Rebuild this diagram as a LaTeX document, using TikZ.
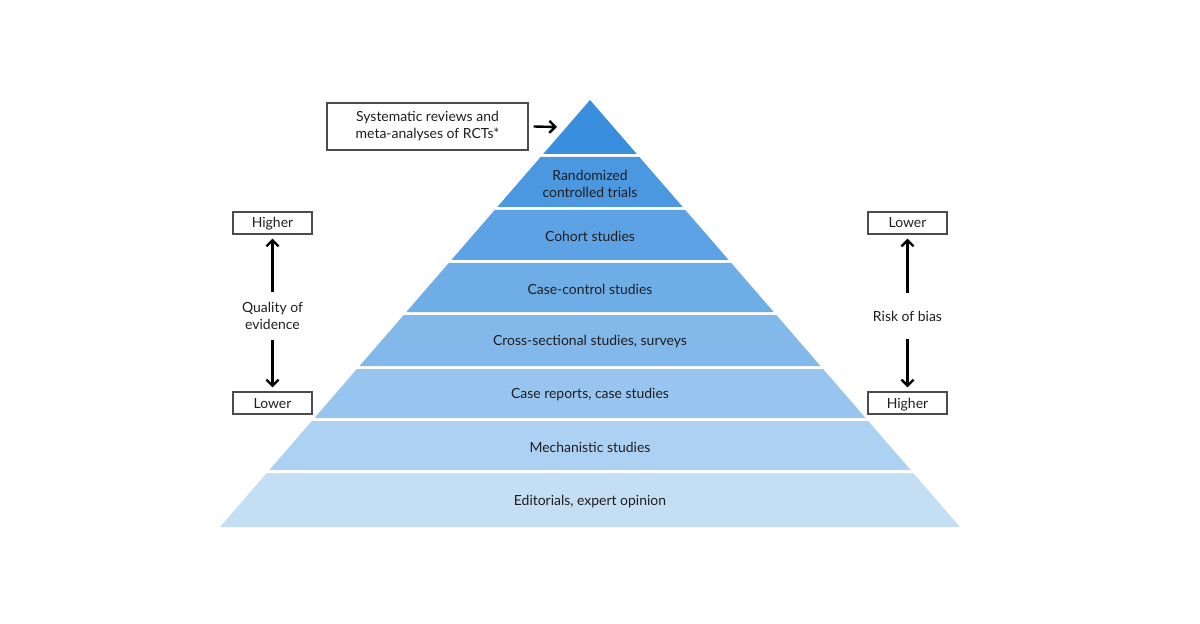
\documentclass[tikz,border=0pt]{standalone}
\usepackage{fontspec}
\setmainfont{Lato}
\usetikzlibrary{positioning,arrows.meta}
\definecolor{lay1}{HTML}{3A8EDE}
\definecolor{lay2}{HTML}{4B98E1}
\definecolor{lay3}{HTML}{5DA2E4}
\definecolor{lay4}{HTML}{6FADE7}
\definecolor{lay5}{HTML}{83B8EB}
\definecolor{lay6}{HTML}{98C5EF}
\definecolor{lay7}{HTML}{ADD1F2}
\definecolor{lay8}{HTML}{C4DEF4}
\definecolor{ink}{HTML}{1E1E1E}

\begin{document}
\begin{tikzpicture}[
    x=1bp, y=-1bp,
    >={Straight Barb[length=6bp,width=12bp]},
    every node/.style={font=\fontsize{14}{17}\selectfont, align=center, text=ink},
    tag/.style={draw=black!70, line width=1.2bp, minimum width=79bp, minimum height=22bp, inner sep=0pt,
      text height=11bp, text depth=1bp},
    bigarrow/.style={->, line width=2.4bp, black}
]
\useasboundingbox (0,0) rectangle (1200,624);
% pyramid layers: top/bottom/label
\foreach \i/\yt/\yb/\txt in {1/100/154/{},
    2/157/207/{Randomized\\controlled trials},
    3/210/260/{Cohort studies},
    4/263/312/{Case-control studies},
    5/315/366/{Cross-sectional studies, surveys},
    6/369/418/{Case reports, case studies},
    7/421/470/{Mechanistic studies},
    8/473/527/{Editorials, expert opinion}}{
  \pgfmathsetmacro{\wt}{(\yt-100)*0.8665}
  \pgfmathsetmacro{\wb}{(\yb-100)*0.8665}
  \fill[lay\i] (590-\wt,\yt) -- (590+\wt,\yt) -- (590+\wb,\yb) -- (590-\wb,\yb) -- cycle;
  \node (lay\i) at (590,{(\yt+\yb)/2+1.5}) {\txt};
}
\node[draw=black!70, line width=1.2bp, minimum width=201bp, minimum height=47bp, inner sep=0pt]
  (sys) at (427.5,126.5) {Systematic reviews and\\meta-analyses of RCTs*};
\coordinate (apex) at (557,127);
\draw[bigarrow] ([xshift=5bp]sys.east) -- (apex);
% left scale
\node[tag] (hiL) at (272.5,223) {Higher};
\node[tag] (loL) at (272.5,403) {Lower};
\node (qual) at (272.5,316) {Quality of\\evidence};
\draw[bigarrow] ([yshift=7bp]qual.north) -- ([yshift=-4bp]hiL.south);
\draw[bigarrow] ([yshift=-7bp]qual.south) -- ([yshift=4bp]loL.north);
% right scale
\node[tag] (loR) at (907.5,223) {Lower};
\node[tag] (hiR) at (907.5,403) {Higher};
\node (bias) at (907.5,316) {Risk of bias};
\draw[bigarrow] ([yshift=14bp]bias.north) -- ([yshift=-4bp]loR.south);
\draw[bigarrow] ([yshift=-14bp]bias.south) -- ([yshift=4bp]hiR.north);
\end{tikzpicture}
\end{document}
